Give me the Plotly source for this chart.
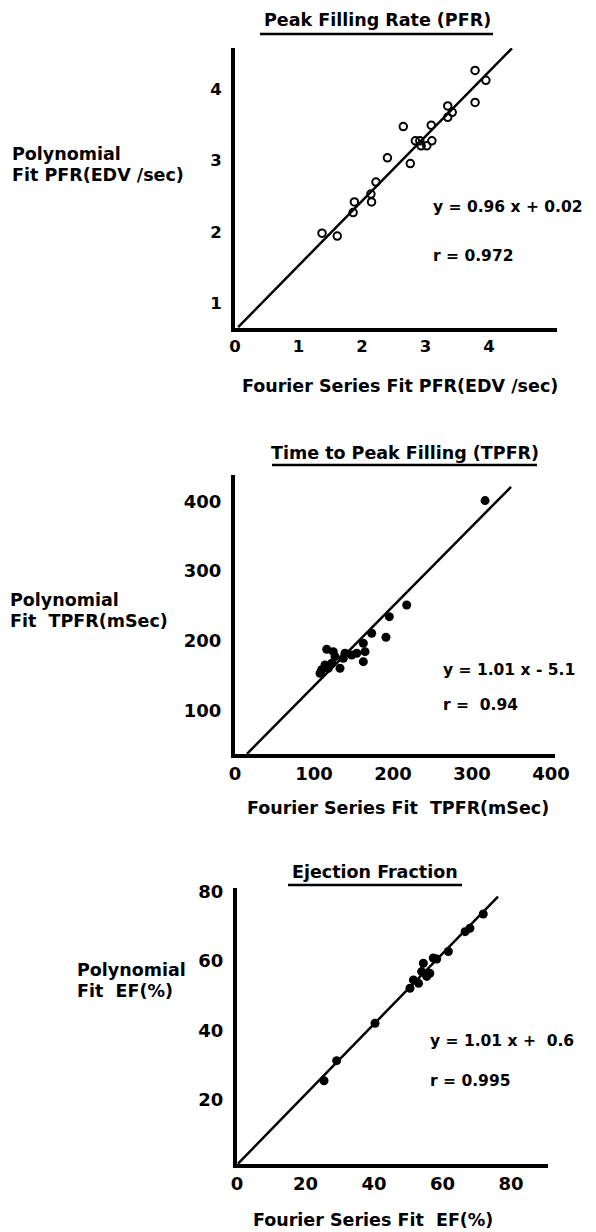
import plotly.graph_objects as go

OFF = 8                      # page body margin of the HTML page
W, H = 596 - OFF, 1232 - OFF

# ---------------- Data: Peak Filling Rate (PFR) ----------------
pfr_fourier = [1.37, 1.61, 1.88, 1.86, 2.14, 2.15, 2.22, 2.40, 2.65, 2.76, 2.84,
               2.91, 2.93, 3.02, 3.10, 3.09, 3.35, 3.35, 3.42, 3.78, 3.78, 3.95]
pfr_poly = [1.98, 1.94, 2.42, 2.27, 2.53, 2.42, 2.70, 3.04, 3.48, 2.96, 3.28,
            3.28, 3.21, 3.21, 3.28, 3.50, 3.77, 3.61, 3.68, 4.27, 3.82, 4.13]
pfr_fit_x = [0.05, 4.36]
pfr_fit_y = [0.66, 4.58]
pfr_xticks = [0, 1, 2, 3, 4]
pfr_yticks = [1, 2, 3, 4]

# ---------------- Data: Time to Peak Filling (TPFR) ----------------
tpfr_fourier = [316.5, 217.3, 195.3, 191.1, 173.0, 162.4, 164.6, 162.4, 154.1, 147.7,
                139.2, 137.1, 116.1, 124.4, 126.6, 122.4, 132.9, 113.9, 109.7, 107.6, 118.1]
tpfr_poly = [401.3, 251.4, 234.6, 205.0, 210.8, 196.4, 184.3, 170.0, 182.0, 179.6,
             182.0, 174.9, 187.8, 184.3, 177.2, 167.7, 160.5, 165.2, 158.3, 153.3, 160.5]
tpfr_fit_x = [15.2, 349.4]
tpfr_fit_y = [37.6, 421.0]
tpfr_xticks = [0, 100, 200, 300, 400]
tpfr_yticks = [100, 200, 300, 400]

# ---------------- Data: Ejection Fraction ----------------
ef_fourier = [25.4, 29.1, 40.3, 50.5, 51.5, 53.0, 53.9, 55.4, 54.4, 57.3, 56.3,
              58.3, 61.7, 66.6, 68.0, 71.9]
ef_poly = [25.5, 31.3, 42.1, 52.2, 54.6, 53.6, 57.0, 55.6, 59.4, 60.9, 56.5,
           60.6, 62.8, 68.5, 69.5, 73.6]
ef_fit_x = [0.3, 76.2]
ef_fit_y = [1.6, 78.6]
ef_xticks = [0, 20, 40, 60, 80]
ef_yticks = [20, 40, 60, 80]

FONT = "DejaVu Sans"


def fx(px):
    return (px - OFF) / W


def fy(py):
    return 1 - (py - OFF) / H


fig = go.Figure()

# PFR
fig.add_trace(go.Scatter(x=pfr_fit_x, y=pfr_fit_y, mode="lines",
                         line=dict(color="black", width=2.5), xaxis="x", yaxis="y"))
fig.add_trace(go.Scatter(x=pfr_fourier, y=pfr_poly, mode="markers",
                         marker=dict(symbol="circle-open", size=7.5, color="black",
                                     line=dict(width=2, color="black")),
                         xaxis="x", yaxis="y"))
# TPFR
fig.add_trace(go.Scatter(x=tpfr_fit_x, y=tpfr_fit_y, mode="lines",
                         line=dict(color="black", width=2.5), xaxis="x2", yaxis="y2"))
fig.add_trace(go.Scatter(x=tpfr_fourier, y=tpfr_poly, mode="markers",
                         marker=dict(symbol="circle", size=9, color="black"),
                         xaxis="x2", yaxis="y2"))
# EF
fig.add_trace(go.Scatter(x=ef_fit_x, y=ef_fit_y, mode="lines",
                         line=dict(color="black", width=2.5), xaxis="x3", yaxis="y3"))
fig.add_trace(go.Scatter(x=ef_fourier, y=ef_poly, mode="markers",
                         marker=dict(symbol="circle", size=9, color="black"),
                         xaxis="x3", yaxis="y3"))


def axis(domain, rng, tickvals, anchor, size, standoff):
    return dict(domain=domain, range=rng, tickvals=tickvals, anchor=anchor,
                showline=True, linewidth=4, linecolor="black", showgrid=False,
                zeroline=False, ticks="", ticklabelstandoff=standoff, automargin=False,
                tickfont=dict(family=FONT, size=size, color="black", weight="bold"))


fig.update_layout(
    width=W, height=H, autosize=False, showlegend=False,
    margin=dict(l=0, r=0, t=0, b=0, pad=0, autoexpand=False),
    paper_bgcolor="white", plot_bgcolor="white",
    xaxis=axis([fx(235), fx(557)], [0, 5.07], pfr_xticks, "y", 16.5, 0),
    yaxis=axis([fy(328), fy(48)], [0.647, 4.585], pfr_yticks, "x", 16.5, 6),
    xaxis2=axis([fx(235), fx(555)], [0, 405], tpfr_xticks, "y2", 18, 0),
    yaxis2=axis([fy(754), fy(475)], [37.4, 438], tpfr_yticks, "x2", 18, 6),
    xaxis3=axis([fx(237), fx(548)], [0, 90.8], ef_xticks, "y3", 18, 0),
    yaxis3=axis([fy(1164), fy(888)], [1.5, 81.1], ef_yticks, "x3", 18, 6),
)

txt = dict(family=FONT, size=17.5, color="black", weight="bold")
eq = dict(family=FONT, size=15.5, color="black", weight="bold")

ann = [
    # PFR
    (377, 20, "Peak Filling Rate (PFR)", "center", txt),
    (10, 154, "Polynomial", "left", txt),
    (10, 175, "Fit PFR(EDV /sec)", "left", txt),
    (431, 207, "y = 0.96 x + 0.02", "left", eq),
    (431, 256, "r = 0.972", "left", eq),
    (400, 386, "Fourier Series Fit PFR(EDV /sec)", "center", txt),
    # TPFR
    (405, 453, "Time to Peak Filling (TPFR)", "center", txt),
    (8, 600, "Polynomial", "left", txt),
    (8, 621, "Fit  TPFR(mSec)", "left", txt),
    (441, 670, "y = 1.01 x - 5.1", "left", eq),
    (441, 705, "r =  0.94", "left", eq),
    (398, 808, "Fourier Series Fit  TPFR(mSec)", "center", txt),
    # EF
    (375, 872, "Ejection Fraction", "center", txt),
    (75, 970, "Polynomial", "left", txt),
    (75, 991, "Fit  EF(%)", "left", txt),
    (428, 1041, "y = 1.01 x +  0.6", "left", eq),
    (428, 1081, "r = 0.995", "left", eq),
    (373, 1220, "Fourier Series Fit  EF(%)", "center", txt),
]
fig.update_layout(annotations=[
    dict(x=fx(px), y=fy(py), xref="paper", yref="paper", text=t, showarrow=False,
         xanchor=xa, yanchor="middle", font=f)
    for px, py, t, xa, f in ann
])

underlines = [(260, 493, 34), (272, 537, 465), (288, 462, 885)]
fig.update_layout(shapes=[
    dict(type="line", xref="paper", yref="paper", x0=fx(a), x1=fx(b), y0=fy(y), y1=fy(y),
         line=dict(color="black", width=2.5))
    for a, b, y in underlines
])

fig.write_html("out.html")
